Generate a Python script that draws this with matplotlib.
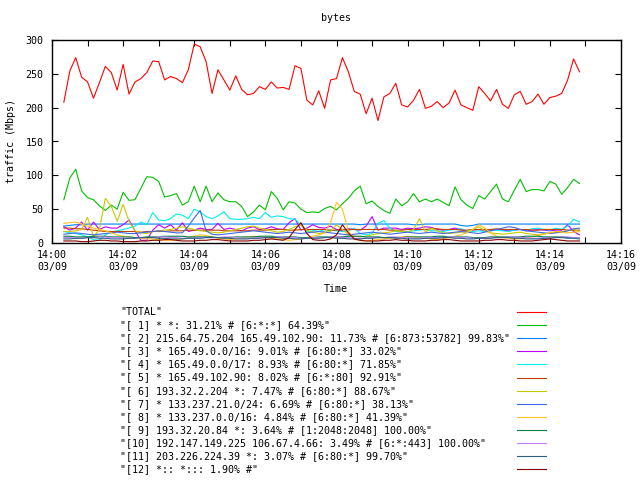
import numpy as np
import pandas as pd
import matplotlib
matplotlib.use('Agg')
import matplotlib.pyplot as plt
import matplotlib.dates as mdates
from matplotlib.lines import Line2D

plt.rcParams['font.family'] = ['DejaVu Sans Mono', 'DejaVu Sans']
plt.rcParams['font.size'] = 7.2

# sample times: one point every 10 s
times = pd.date_range('2010-03-09 14:00:20', periods=88, freq='10s')

# traffic in Mbps
total = [208, 254, 274, 245, 238, 214, 237, 261, 252, 226,
         264, 220, 238, 243, 252, 269, 268, 241, 246, 243,
         237, 256, 294, 290, 268, 221, 256, 241, 226, 247,
         227, 219, 221, 231, 227, 238, 229, 230, 227, 262,
         258, 211, 204, 225, 199, 241, 243, 274, 253, 224,
         220, 191, 214, 181, 216, 221, 236, 204, 201, 211,
         227, 199, 202, 209, 200, 207, 226, 204, 200, 196,
         231, 221, 210, 227, 205, 199, 219, 224, 205, 209,
         220, 205, 215, 217, 221, 241, 272, 253]
s1 = [64, 96, 109, 77, 67, 64, 55, 48, 56, 50,
      75, 63, 64, 81, 98, 97, 91, 68, 70, 73,
      56, 61, 84, 61, 84, 61, 74, 64, 61, 61,
      54, 39, 46, 56, 49, 76, 66, 49, 61, 59,
      50, 45, 46, 45, 51, 54, 49, 58, 66, 77,
      84, 58, 62, 54, 48, 44, 65, 55, 61, 73,
      61, 65, 61, 65, 60, 55, 83, 64, 56, 51,
      70, 65, 76, 87, 65, 61, 78, 94, 76, 79,
      79, 77, 91, 87, 72, 82, 94, 88]
s2 = [25, 26, 27, 27, 28, 28, 28, 28, 28, 28,
      28, 28, 28, 28, 28, 28, 28, 28, 28, 28,
      28, 28, 28, 28, 28, 28, 28, 28, 28, 28,
      28, 28, 28, 28, 28, 28, 28, 28, 28, 28,
      28, 28, 28, 28, 28, 28, 28, 28, 28, 28,
      27, 28, 28, 28, 28, 28, 28, 28, 28, 27,
      27, 28, 28, 28, 28, 28, 28, 26, 25, 26,
      28, 28, 28, 28, 28, 28, 28, 28, 28, 28,
      28, 28, 28, 28, 28, 28, 28, 28]
s3 = [24, 19, 22, 31, 19, 31, 20, 24, 22, 22,
      27, 34, 18, 4, 4, 19, 27, 22, 27, 19,
      30, 17, 19, 22, 20, 20, 29, 20, 22, 20,
      18, 22, 24, 20, 21, 24, 21, 20, 30, 36,
      19, 22, 27, 23, 22, 25, 20, 18, 21, 20,
      19, 25, 39, 19, 22, 22, 22, 20, 22, 21,
      22, 24, 23, 20, 19, 20, 22, 20, 17, 19,
      20, 18, 19, 20, 19, 18, 19, 20, 18, 19,
      20, 19, 18, 19, 19, 27, 17, 12]
s4 = [17, 15, 14, 12, 9, 5, 4, 12, 16, 18,
      20, 22, 25, 31, 27, 45, 34, 33, 36, 43,
      41, 36, 50, 46, 39, 36, 40, 46, 36, 35,
      35, 36, 38, 36, 45, 38, 40, 39, 36, 35,
      27, 17, 18, 20, 17, 19, 18, 17, 18, 22,
      14, 12, 14, 29, 33, 22, 17, 17, 17, 18,
      19, 20, 18, 18, 17, 19, 20, 21, 18, 17,
      18, 17, 18, 19, 18, 17, 19, 20, 19, 21,
      22, 20, 19, 22, 20, 25, 35, 31]
s5 = [22, 22, 21, 21, 20, 19, 18, 17, 17, 17,
      17, 17, 17, 16, 17, 17, 17, 17, 18, 18,
      18, 19, 19, 19, 19, 19, 19, 18, 18, 18,
      18, 18, 19, 19, 19, 20, 20, 20, 19, 19,
      20, 20, 20, 20, 20, 19, 19, 20, 20, 20,
      20, 20, 20, 20, 20, 19, 19, 19, 20, 20,
      20, 20, 21, 21, 20, 20, 20, 19, 19, 20,
      20, 20, 20, 21, 20, 20, 20, 20, 20, 19,
      19, 20, 20, 20, 20, 19, 19, 19]
s6 = [17, 17, 18, 20, 38, 9, 20, 66, 54, 32,
      57, 32, 18, 15, 14, 17, 18, 19, 20, 22,
      24, 22, 20, 18, 17, 16, 15, 16, 18, 20,
      22, 24, 25, 22, 20, 18, 16, 17, 20, 24,
      27, 19, 16, 14, 15, 17, 27, 20, 12, 10,
      9, 10, 12, 14, 15, 16, 18, 17, 16, 20,
      36, 16, 22, 18, 15, 14, 15, 16, 17, 20,
      24, 18, 15, 14, 13, 14, 15, 16, 14, 13,
      12, 14, 15, 16, 17, 18, 20, 17]
s7 = [13, 14, 15, 14, 13, 12, 13, 14, 15, 16,
      15, 14, 14, 15, 16, 17, 18, 17, 16, 15,
      15, 25, 37, 48, 18, 13, 12, 13, 14, 15,
      16, 17, 18, 17, 16, 15, 14, 15, 16, 15,
      14, 15, 16, 17, 16, 15, 14, 13, 12, 13,
      14, 15, 16, 15, 14, 13, 14, 15, 16, 15,
      14, 15, 16, 15, 14, 15, 16, 17, 16, 15,
      14, 16, 18, 20, 22, 24, 23, 20, 18, 17,
      16, 15, 14, 15, 16, 18, 21, 22]
s8 = [29, 30, 31, 28, 25, 22, 20, 18, 15, 12,
      10, 9, 8, 7, 6, 6, 5, 4, 4, 5,
      6, 8, 10, 12, 11, 9, 7, 6, 5, 6,
      7, 9, 10, 9, 8, 7, 6, 5, 4, 5,
      6, 8, 10, 12, 15, 30, 60, 50, 18, 5,
      4, 3, 4, 5, 6, 7, 8, 9, 10, 9,
      8, 7, 6, 5, 6, 8, 10, 12, 15, 20,
      27, 22, 15, 10, 8, 7, 6, 6, 7, 9,
      11, 13, 15, 17, 16, 15, 16, 17]
s9 = [10, 10, 9, 9, 9, 10, 10, 10, 9, 9,
      9, 9, 8, 8, 9, 9, 9, 10, 10, 10,
      10, 9, 9, 9, 9, 9, 8, 8, 8, 9,
      9, 9, 9, 10, 10, 10, 9, 9, 9, 9,
      8, 8, 8, 9, 9, 9, 9, 9, 10, 10,
      10, 9, 9, 9, 8, 8, 8, 8, 9, 9,
      9, 9, 9, 10, 10, 9, 9, 9, 9, 8,
      8, 8, 9, 9, 9, 9, 9, 9, 10, 10,
      10, 9, 9, 9, 9, 8, 8, 8]
s10 = [8, 8, 7, 7, 8, 8, 9, 9, 8, 8,
       7, 7, 7, 8, 8, 8, 9, 9, 8, 8,
       7, 7, 7, 8, 8, 8, 8, 9, 9, 8,
       7, 7, 7, 8, 8, 8, 9, 9, 8, 8,
       7, 7, 8, 8, 8, 9, 9, 8, 8, 7,
       7, 7, 8, 8, 8, 9, 9, 8, 8, 7,
       7, 8, 8, 8, 8, 9, 9, 8, 8, 7,
       7, 7, 8, 8, 8, 9, 9, 8, 8, 7,
       7, 8, 8, 8, 9, 9, 8, 8]
s11 = [6, 6, 7, 7, 8, 8, 7, 7, 6, 6,
       6, 7, 7, 8, 8, 8, 7, 7, 6, 6,
       6, 7, 7, 7, 8, 8, 8, 7, 7, 6,
       6, 6, 7, 7, 8, 8, 8, 7, 7, 6,
       6, 7, 7, 7, 8, 8, 7, 7, 6, 6,
       6, 7, 7, 8, 8, 8, 7, 7, 6, 6,
       6, 7, 7, 7, 8, 8, 7, 7, 6, 6,
       7, 7, 7, 8, 8, 8, 7, 7, 6, 6,
       6, 7, 7, 8, 8, 7, 7, 6]
s12 = [3, 3, 3, 2, 2, 3, 4, 4, 3, 3,
       2, 2, 2, 3, 3, 4, 4, 5, 5, 4,
       3, 3, 3, 4, 4, 5, 5, 4, 3, 3,
       3, 3, 4, 4, 5, 6, 5, 4, 8, 20,
       30, 14, 5, 4, 4, 6, 12, 27, 15, 6,
       4, 3, 3, 3, 4, 4, 5, 4, 4, 3,
       3, 3, 4, 4, 5, 5, 4, 3, 3, 3,
       3, 4, 4, 5, 5, 4, 4, 3, 3, 3,
       4, 5, 6, 5, 4, 3, 3, 3]

series = [total, s1, s2, s3, s4, s5, s6, s7, s8, s9, s10, s11, s12]
labels = [
    '"TOTAL"',
    '"[ 1] * *: 31.21% # [6:*:*] 64.39%"',
    '"[ 2] 215.64.75.204 165.49.102.90: 11.73% # [6:873:53782] 99.83%"',
    '"[ 3] * 165.49.0.0/16: 9.01% # [6:80:*] 33.02%"',
    '"[ 4] * 165.49.0.0/17: 8.93% # [6:80:*] 71.85%"',
    '"[ 5] * 165.49.102.90: 8.02% # [6:*:80] 92.91%"',
    '"[ 6] 193.32.2.204 *: 7.47% # [6:80:*] 88.67%"',
    '"[ 7] * 133.237.21.0/24: 6.69% # [6:80:*] 38.13%"',
    '"[ 8] * 133.237.0.0/16: 4.84% # [6:80:*] 41.39%"',
    '"[ 9] 193.32.20.84 *: 3.64% # [1:2048:2048] 100.00%"',
    '"[10] 192.147.149.225 106.67.4.66: 3.49% # [6:*:443] 100.00%"',
    '"[11] 203.226.224.39 *: 3.07% # [6:80:*] 99.70%"',
    '"[12] *:: *::: 1.90% #"',
]
colors = ['#ff0000', '#00c000', '#0080ff', '#c000ff', '#00eeee', '#c04000',
          '#c8c800', '#4169e1', '#ffc020', '#008040', '#c080ff', '#306080',
          '#8b0000']

fig = plt.figure(figsize=(6.4, 4.8), dpi=100)
ax = fig.add_axes([52 / 640, 1 - 243 / 480, 569 / 640, 203 / 480])

for vals, color in zip(series, colors):
    ax.plot(times, vals, color=color, lw=0.8)

ax.set_xlim(pd.Timestamp('2010-03-09 14:00'), pd.Timestamp('2010-03-09 14:16'))
ax.set_ylim(0, 300)
ax.set_yticks(range(0, 301, 50))
ax.xaxis.set_major_locator(mdates.MinuteLocator(byminute=range(0, 60, 2)))
ax.xaxis.set_minor_locator(mdates.MinuteLocator())
ax.xaxis.set_major_formatter(mdates.DateFormatter('%H:%M\n%m/%d'))
ax.tick_params(which='both', direction='in', top=True, right=True,
               length=4, width=0.8, colors='black')
ax.tick_params(axis='x', pad=5)
ax.tick_params(axis='y', pad=6)
for sp in ax.spines.values():
    sp.set_linewidth(1)

fig.text(336 / 640, 1 - 18 / 480, 'bytes', ha='center', va='center')
fig.text(11 / 640, 1 - 141 / 480, 'traffic (Mbps)', rotation=90,
         ha='center', va='center')
fig.text(336 / 640, 1 - 289 / 480, 'Time', ha='center', va='center')

# key below the plot: text on the left, line samples in a column
for k, (lab, color) in enumerate(zip(labels, colors)):
    y = 1 - (312 + 13.1 * k) / 480
    fig.text(120 / 640, y, lab, ha='left', va='center')
    fig.add_artist(Line2D([517 / 640, 546 / 640], [y, y], color=color, lw=0.8))

fig.savefig('out.png', dpi=100)
